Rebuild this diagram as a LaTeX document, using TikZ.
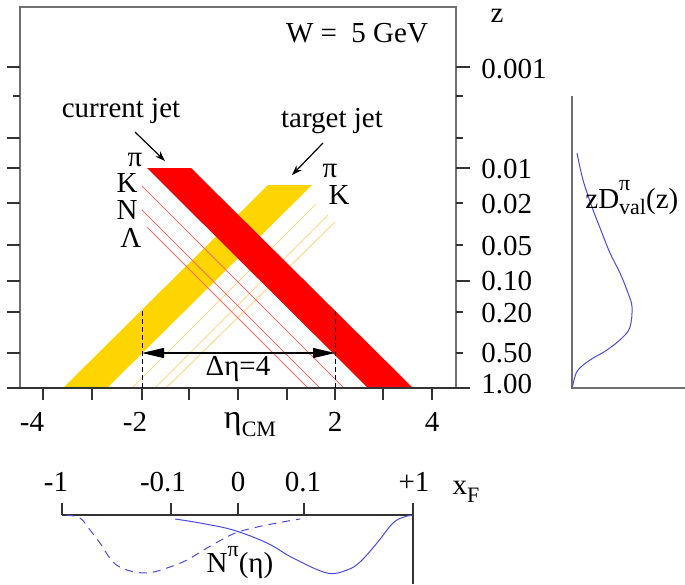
\documentclass[tikz,border=0pt]{standalone}
\usepackage{fontspec}
\setmainfont{Liberation Serif}
\newfontfamily\tnr{Liberation Serif}
\usetikzlibrary{arrows.meta}
\definecolor{jetred}{HTML}{FF0000}
\definecolor{jetyel}{HTML}{FFD500}
\definecolor{thinred}{HTML}{FF6A6A}
\definecolor{thinyel}{HTML}{FFD98C}
\definecolor{framegray}{HTML}{707070}
\definecolor{curveblue}{HTML}{4B4BDD}
\begin{document}
\begin{tikzpicture}[x=0.5pt,y=-0.5pt,
  font=\tnr\fontsize{14.5}{16}\selectfont,
  lbl/.style={inner sep=0pt,anchor=center},
  rlbl/.style={inner sep=0pt,anchor=west},
  framel/.style={draw=framegray,line width=0.75pt},
  tickl/.style={draw=black!80,line width=0.6pt},
  thinr/.style={draw=thinred,line width=0.5pt},
  thiny/.style={draw=thinyel,line width=0.5pt},
  bluec/.style={draw=curveblue,line width=0.5pt},
  ptr/.style={draw=black,line width=0.6pt,-{Stealth[length=5pt,width=3.5pt]}},
  dimarr/.style={draw=black,line width=0.6pt,{Triangle[length=11pt,width=5pt]}-{Triangle[length=11pt,width=5pt]}},
  dashl/.style={draw=black,line width=0.5pt,dash pattern=on 2.5pt off 1.5pt}]
\useasboundingbox (0,0) rectangle (685,584);

% bands
\fill[jetyel] (63,388) -- (268,185) -- (312,185) -- (107,388) -- cycle;
\draw[thiny] (316,204) coordinate (y1a) -- (132,388) coordinate (y1b);
\draw[thiny] (328,215) coordinate (y2a) -- (155,388) coordinate (y2b);
\draw[thiny] (335,222) coordinate (y3a) -- (166,388) coordinate (y3b);
\fill[jetred] (147,168) -- (191,168) -- (413,388) -- (368,388) -- cycle;
\draw[thinr] (142,186) coordinate (kA) -- (344,388) coordinate (kB);
\draw[thinr] (142,210) coordinate (nA) -- (320,388) coordinate (nB);
\draw[thinr] (147,227) coordinate (lA) -- (308,388) coordinate (lB);

% frame
\draw[framel] (20,388) -- (20,7) -- (456,7) -- (456,388);
% left ticks
\foreach \yy in {67,138,168,203,245,281,312,353} \draw[tickl] (7,\yy) -- (20,\yy);
\draw[tickl] (13,96) -- (20,96);
% right ticks
\foreach \yy in {67,168,281} \draw[tickl] (456,\yy) -- (470,\yy);
\foreach \yy in {96,138,203,245,312,353} \draw[tickl] (456,\yy) -- (463,\yy);
% bottom ticks
\foreach \xx in {43,92,142,189,238,287,335,383,432} \draw[tickl] (\xx,388) -- (\xx,400);
\draw[framel,draw=black!80] (7,388) -- (470,388);

% labels in panel
\node[lbl] (W) at (357,33) {W =\ \ 5 GeV};
\node[lbl] (cj) at (121,111) {current jet};
\node[lbl] (tj) at (332,121) {target jet};
\coordinate (cja) at (135,132);
\coordinate (cjb) at (165,161);
\coordinate (tja) at (323,143);
\coordinate (tjb) at (292,175);
\draw[ptr] (cja) -- (cjb);
\draw[ptr] (tja) -- (tjb);
\node[lbl] (piL) at (135,160) {π};
\node[lbl] (kL) at (127,183) {K};
\node[lbl] (nL) at (127,210) {N};
\node[lbl] (lamL) at (131,238) {Λ};
\node[lbl] (piR) at (330,171) {π};
\node[lbl] (kR) at (339,195) {K};

% delta eta
\coordinate (dl0) at (142,311);
\coordinate (dl1) at (142,388);
\coordinate (dr0) at (335,311);
\coordinate (dr1) at (335,388);
\draw[dashl] (dl0) -- (dl1);
\draw[dashl] (dr0) -- (dr1);
\coordinate (da) at (142,353);
\coordinate (db) at (335,353);
\draw[dimarr] (da) -- (db);
\node[lbl] (deta) at (238,369) {Δη=4};

% right axis labels
\node[lbl] (zlab) at (497,16) {z};
\node[rlbl] at (481,69) {0.001};
\node[rlbl] at (481,169) {0.01};
\node[rlbl] at (481,204) {0.02};
\node[rlbl] at (481,246) {0.05};
\node[rlbl] at (481,281) {0.10};
\node[rlbl] at (481,313) {0.20};
\node[rlbl] at (481,353) {0.50};
\node[rlbl] at (481,384) {1.00};

% bottom axis labels
\node[lbl] at (32,422) {-4};
\node[lbl] at (135,422) {-2};
\node[lbl] at (335,422) {2};
\node[lbl] at (432,422) {4};
\node[lbl] (etacm) at (250,425) {{\fontsize{17}{18}\selectfont η}\raisebox{-0.6ex}{\fontsize{11}{12}\selectfont CM}};

% right plot
\draw[framel] (572,96) -- (572,388) -- (685,388);
\draw[bluec] plot[smooth,tension=0.6] coordinates {(577,153) (583,180) (592,207) (602,233) (610,253) (620,273) (628,293) (632,307) (630,327) (622,338) (607,350) (590,360) (578,370) (574,380) (572.5,387)};
\node[rlbl] (zd) at (585,198) {zD\rlap{\raisebox{1.3ex}{\fontsize{11}{12}\selectfont π}}\raisebox{-0.5ex}{\fontsize{11}{12}\selectfont val}(z)};

% xF axis
\draw[framel,draw=black!80] (62,515) -- (413,515);
\foreach \xx in {62,171,238,304} \draw[tickl] (\xx,503) -- (\xx,515);
\draw[framel,draw=black!80] (413,503) -- (413,584);
\node[lbl] at (56,482) {-1};
\node[lbl] at (163,482) {-0.1};
\node[lbl] at (238,482) {0};
\node[lbl] at (303,482) {0.1};
\node[lbl] at (414,482) {+1};
\node[lbl] (xf) at (466,492) {x\raisebox{-0.6ex}{\fontsize{11}{12}\selectfont F}};

\draw[bluec,dash pattern=on 4pt off 3pt] plot[smooth,tension=0.6] coordinates {(66,515) (80,518) (90,530) (100,543) (113,562) (127,570) (147,573) (167,568) (187,560) (207,548) (233,534) (253,528) (277,523) (300,519)};
\draw[bluec] plot[smooth,tension=0.6] coordinates {(175,519) (200,523) (233,530) (267,543) (293,558) (327,573) (347,570) (360,562) (377,543) (393,523) (404,517) (413,515)};
\node[lbl] (Npi) at (240,563) {N\raisebox{1.2ex}{\fontsize{11}{12}\selectfont π}(η)};
\end{tikzpicture}
\end{document}
